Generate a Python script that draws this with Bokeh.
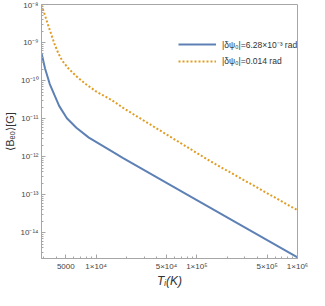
from bokeh.plotting import figure
from bokeh.models import Range1d, FixedTicker, Legend, LegendItem
from bokeh.embed import file_html
from bokeh.resources import INLINE

# data
T_blue = [2870, 3112, 3467, 3855, 4295, 5129, 6368, 8472, 11300, 15070,
          18370, 1e5, 1e6]
B_blue = [5.3e-10, 2.07e-10, 8.11e-11, 4.19e-11, 2.16e-11, 1.02e-11, 5.78e-12,
          3.16e-12, 2.0e-12, 1.27e-12, 9.33e-13, 7.24e-14, 2.24e-15]
T_orange = [2870, 3112, 3334, 3581, 3855, 4198, 4613, 5321, 6368, 7889,
            10140, 14030, 19360, 135200, 1e6]
B_orange = [9.5e-9, 5.13e-9, 2.91e-9, 1.66e-9, 9.4e-10, 5.33e-10, 3.33e-10,
            2.07e-10, 1.30e-10, 8.11e-11, 5.05e-11, 3.16e-11, 1.78e-11,
            7.67e-13, 3.9e-14]
label_blue = "|δψ₀|=6.28×10⁻³ rad"
label_orange = "|δψ₀|=0.014 rad"

x_ticks = [5000, 1e4, 5e4, 1e5, 5e5, 1e6]
x_tick_labels = ["5000", "1×10⁴", "5×10⁴", "1×10⁵", "5×10⁵", "1×10⁶"]
y_exps = [-8, -9, -10, -11, -12, -13, -14]
sup = str.maketrans("-0123456789", "⁻⁰¹²³⁴⁵⁶⁷⁸⁹")

x_minor = [m * 10 ** e for e in (3, 4, 5) for m in range(1, 10)
           if 2870 <= m * 10 ** e <= 1e6]
y_minor = [m * 10.0 ** e for e in range(-15, -8) for m in range(1, 10)]

FONT = "Liberation Sans"
BLUE = "#5E81B5"
ORANGE = "#E19C24"
GRAY = "#a6a6a6"

p = figure(width=309, height=290, x_axis_type="log", y_axis_type="log",
           x_range=Range1d(2870, 1e6), y_range=Range1d(2.1e-15, 1e-8),
           output_backend="svg", toolbar_location=None,
           min_border_left=33, min_border_right=12, min_border_top=4,
           min_border_bottom=0)
p.grid.visible = False
p.outline_line_color = GRAY
p.background_fill_color = "white"

r1 = p.line(T_blue, B_blue, line_color=BLUE, line_width=2)
r2 = p.line(T_orange, B_orange, line_color=ORANGE, line_width=2, line_dash="2 2")

xa = p.xaxis[0]
xa.ticker = FixedTicker(ticks=x_ticks, minor_ticks=x_minor)
xa.major_label_overrides = {t: l for t, l in zip(x_ticks, x_tick_labels)}
ya = p.yaxis[0]
ya.ticker = FixedTicker(ticks=[10.0 ** e for e in y_exps], minor_ticks=y_minor)
ya.major_label_overrides = {10.0 ** e: "10" + str(e).translate(sup) for e in y_exps}

for ax in (xa, ya):
    ax.axis_line_color = GRAY
    ax.major_tick_line_color = GRAY
    ax.minor_tick_line_color = GRAY
    ax.major_tick_in = 4
    ax.major_tick_out = 0
    ax.minor_tick_in = 2
    ax.minor_tick_out = 0
    ax.major_label_text_font = FONT
    ax.major_label_text_font_size = "8px"
    ax.major_label_text_color = "#444444"
    ax.major_label_standoff = 3
    ax.axis_label_text_font = FONT
    ax.axis_label_text_color = "#333333"

xa.axis_label = "Tᵢ(K)"
xa.axis_label_text_font_style = "italic"
xa.axis_label_text_font_size = "12px"
xa.axis_label_standoff = 0
ya.axis_label = "⟨Bₑ₀⟩[G]"
ya.axis_label_text_font_style = "normal"
ya.axis_label_text_font_size = "11px"
ya.axis_label_standoff = 2

legend = Legend(items=[LegendItem(label=label_blue, renderers=[r1]),
                       LegendItem(label=label_orange, renderers=[r2])],
                location=(135, 188), glyph_width=38, glyph_height=14,
                label_height=14, label_standoff=6, spacing=3, padding=2,
                label_text_font=FONT, label_text_font_size="8.5px",
                label_text_color="#333333", border_line_alpha=0,
                background_fill_alpha=0)
p.add_layout(legend)

open("out.html", "w").write(file_html(p, INLINE))
